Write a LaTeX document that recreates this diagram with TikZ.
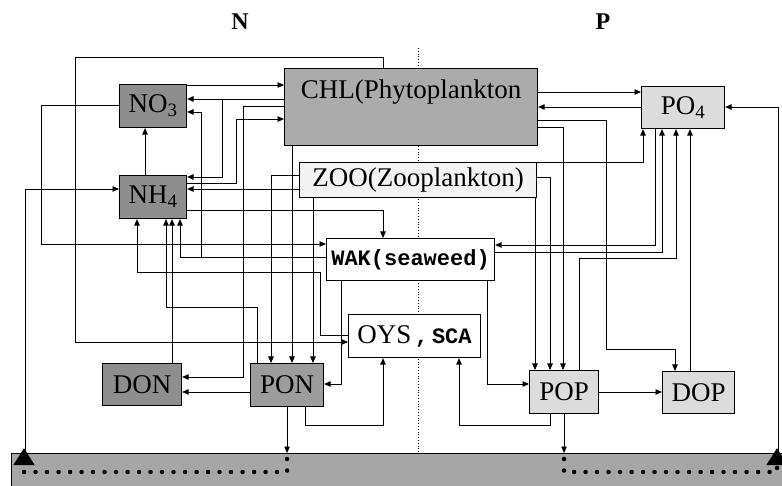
\documentclass[tikz,border=0pt]{standalone}
\usepackage{fontspec}
\setmainfont{Liberation Serif}
\newfontfamily\wakfont{Liberation Mono}
\usetikzlibrary{arrows.meta,positioning,calc}
\definecolor{Dark}{HTML}{8E8E8E}
\definecolor{Mid}{HTML}{9C9C9C}
\definecolor{Phyto}{HTML}{ABABAB}
\definecolor{Light}{HTML}{DCDCDC}
\definecolor{Pale}{HTML}{F3F3F3}
\definecolor{Sed}{HTML}{A6A6A6}

\begin{document}
\begin{tikzpicture}[x=1pt,y=-1pt,
    bx/.style={draw,line width=1.1pt,inner sep=0pt,anchor=north west,align=center,font=\fontsize{27}{30}\selectfont},
    a/.style={-{Triangle[length=6.5pt,width=5.5pt]},line width=0.9pt},
    dots/.style={line width=4.5pt,dash pattern=on 0pt off 11.5pt,line cap=round,-{Triangle[length=17pt,width=20pt]}},
    hdr/.style={font=\fontsize{24}{26}\selectfont\bfseries}]
  \useasboundingbox (0,0) rectangle (782,486);
  % N | P divider
  \draw[line width=0.8pt,dotted] (418,48) -- (418,453);
  \node[hdr] (labN) at (240,22) {N};
  \node[hdr] (labP) at (603,22) {P};
  % boxes
  \node[bx,fill=Dark,minimum width=67pt,minimum height=43pt] (no3) at (119,84) {NO\textsubscript{3}};
  \node[bx,fill=Dark,minimum width=67pt,minimum height=43pt] (nh4) at (119,175) {NH\textsubscript{4}};
  \node[bx,fill=Phyto,minimum width=253pt,text height=30pt,text depth=47pt] (chl) at (284,68) {CHL(Phytoplankton};
  \node[bx,fill=Pale,minimum width=237pt,minimum height=35pt] (zoo) at (299,162) {ZOO(Zooplankton)};
  \node[bx,fill=Light,minimum width=83pt,minimum height=42pt] (po4) at (641,86) {PO\textsubscript{4}};
  \node[bx,fill=white,minimum width=168pt,minimum height=42pt,font=\fontsize{22}{24}\wakfont\bfseries] (wak) at (326,238) {WAK(seaweed)};
  \node[bx,fill=white,minimum width=132pt,minimum height=43pt] (oys) at (348,314) {OYS{\fontsize{22}{24}\wakfont\bfseries\,,\,SCA}};
  \node[bx,fill=Dark,minimum width=79pt,minimum height=42pt] (don) at (102,363) {DON};
  \node[bx,fill=Mid,minimum width=73pt,minimum height=43pt] (pon) at (250,363) {PON};
  \node[bx,fill=Light,minimum width=69pt,minimum height=43pt] (pop) at (529,370) {POP};
  \node[bx,fill=Light,minimum width=72pt,minimum height=42pt] (dop) at (662,371) {DOP};
  \node[bx,fill=Sed,minimum width=771pt,minimum height=34pt] (sed) at (11,453) {};
  \coordinate (sedL) at (24,448);
  \coordinate (sedR) at (777,448);
  % N side
  \draw[a] (no3.east |- 0,85) -- (chl.west |- 0,85);
  \draw[a] (chl.west |- 0,99) -- (no3.east |- 0,99);
  \draw[a] (chl.west |- 0,99) -| (222,177) -- (nh4.east |- 0,177);
  \draw[a] (chl.west |- 0,106) -| (243,377) -- (don.east |- 0,377);
  \draw[a] (nh4.east |- 0,183) -| (236,119) -- (chl.west |- 0,119);
  \draw[a] (zoo.west |- 0,189) -- (nh4.east |- 0,189);
  \draw[a] (nh4.east |- 0,210) -| (wak.north -| 383,0);
  \draw[a] (nh4.north -| 145,0) -- (no3.south -| 145,0);
  \draw[a] (no3.west |- 0,105) -| (41,244) -- (wak.west |- 0,244);
  \draw[a] (wak.west |- 0,257) -| (nh4.south -| 180,0);
  \draw[a] (wak.west |- 0,257) -| (201,112) -- (no3.east |- 0,112);
  \draw[a] (sed.north -| 25,0) |- (nh4.west |- 0,189);
  \draw[a] (oys.west |- 0,335) -| (320,272) -| (nh4.south -| 137,0);
  \draw[a] (chl.north -| 383,0) |- (75,57) |- (oys.west |- 0,342);
  \draw[a] (don.north -| 172,0) -- (nh4.south -| 172,0);
  \draw[a] (pon.north -| 257,0) |- (166,307) -- (nh4.south -| 166,0);
  \draw[a] (pon.west |- 0,392) -- (don.east |- 0,392);
  \draw[a] (zoo.west |- 0,175) -| (pon.north -| 271,0);
  \draw[a] (chl.south -| 292,0) -- (pon.north -| 292,0);
  \draw[a] (zoo.south -| 313,0) -- (pon.north -| 313,0);
  \draw[a] (wak.south -| 341,0) |- (pon.east |- 0,384);
  \draw[a] (pon.south -| 305,0) |- (383,425) -- (oys.south -| 383,0);
  \draw[a] (pon.south) -- (sed.north -| pon.south);
  \draw[dots] (pon.south |- 0,459) |- (24,472) -- (sedL);
  % P side
  \draw[a] (chl.east |- 0,92) -- (po4.west |- 0,92);
  \draw[a] (po4.west |- 0,107) -- (chl.east |- 0,107);
  \draw[a] (chl.east |- 0,120) -| (606,349) -| (dop.north -| 675,0);
  \draw[a] (chl.east |- 0,127) -| (pop.north -| 563,0);
  \draw[a] (zoo.east |- 0,177) -| (pop.north -| 550,0);
  \draw[a] (zoo.south -| 535,0) -- (pop.north -| 535,0);
  \draw[a] (zoo.north east) -| (po4.south -| 643,0);
  \draw[a] (po4.south -| 655,0) |- (wak.east |- 0,245);
  \draw[a] (wak.east |- 0,252) -| (po4.south -| 662,0);
  \draw[a] (pop.north -| 579,0) |- (676,258) -- (po4.south -| 676,0);
  \draw[a] (dop.north -| 690,0) -- (po4.south -| 690,0);
  \draw[a] (wak.south -| 487,0) |- (pop.west |- 0,384);
  \draw[a] (pop.east |- 0,392) -- (dop.west |- 0,392);
  \draw[a] (pop.south -| 550,0) |- (459,425) -- (oys.south -| 459,0);
  \draw[a] (pop.south) -- (sed.north -| pop.south);
  \draw[dots] (pop.south |- 0,459) |- (777,472) -- (sedR);
  \draw[a] (sed.north -| 778,0) |- (po4.east |- 0,107);
\end{tikzpicture}
\end{document}
